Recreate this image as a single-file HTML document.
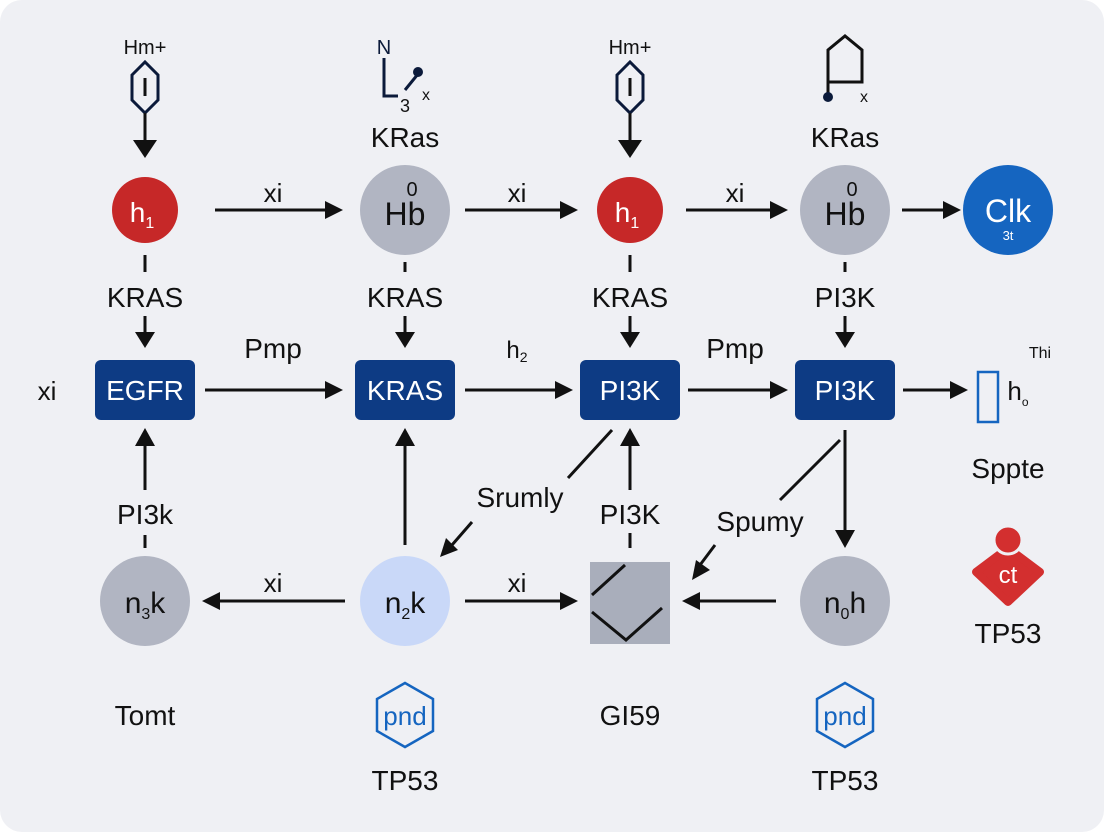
<!DOCTYPE html>
<html><head><meta charset="utf-8"><style>
html,body{margin:0;padding:0;background:#fff;}
svg{display:block;}
text{font-family:"Liberation Sans",Arial,sans-serif;}
</style></head><body>
<svg width="1104" height="832" viewBox="0 0 1104 832" xmlns="http://www.w3.org/2000/svg">
<defs>
<marker id="a" viewBox="0 0 10 10" refX="9" refY="5" markerWidth="7" markerHeight="7" orient="auto" markerUnits="userSpaceOnUse">
</marker>
</defs>
<rect x="0" y="0" width="1104" height="832" rx="22" fill="#eff0f4"/>
<g stroke="#111" stroke-width="3" fill="none">
<!-- top icons -->
<path d="M132 75 L145 62 L158 75 L158 100 L145 113 L132 100 Z" stroke="#0b1a3a"/>
<line x1="145" y1="78" x2="145" y2="96"/>
<line x1="145" y1="113" x2="145" y2="140"/>
<path d="M617 75 L630 62 L643 75 L643 100 L630 113 L617 100 Z" stroke="#0b1a3a"/>
<line x1="630" y1="78" x2="630" y2="96"/>
<line x1="630" y1="113" x2="630" y2="140"/>
<path d="M384 58 L384 96 L398 96" stroke="#0b1a3a"/>
<line x1="405" y1="90" x2="418" y2="74" stroke="#0b1a3a"/>
<path d="M828 82 L828 50 L845 36 L862 50 L862 82 L828 82 M828 82 L828 96" stroke="#111"/>
<!-- row1 arrows -->
<line x1="215" y1="210" x2="325" y2="210"/>
<line x1="465" y1="210" x2="560" y2="210"/>
<line x1="686" y1="210" x2="770" y2="210"/>
<line x1="902" y1="210" x2="943" y2="210"/>
<!-- dashes to labels -->
<line x1="145" y1="255" x2="145" y2="272"/>
<line x1="405" y1="262" x2="405" y2="272"/>
<line x1="630" y1="255" x2="630" y2="272"/>
<line x1="845" y1="262" x2="845" y2="272"/>
<line x1="145" y1="316" x2="145" y2="332"/>
<line x1="405" y1="316" x2="405" y2="332"/>
<line x1="630" y1="316" x2="630" y2="332"/>
<line x1="845" y1="316" x2="845" y2="332"/>
<!-- row2 arrows -->
<line x1="205" y1="390" x2="325" y2="390"/>
<line x1="465" y1="390" x2="555" y2="390"/>
<line x1="688" y1="390" x2="770" y2="390"/>
<line x1="903" y1="390" x2="950" y2="390"/>
<!-- verticals -->
<line x1="145" y1="490" x2="145" y2="445"/>
<line x1="145" y1="535" x2="145" y2="548"/>
<line x1="405" y1="545" x2="405" y2="445"/>
<line x1="630" y1="490" x2="630" y2="445"/>
<line x1="630" y1="533" x2="630" y2="548"/>
<line x1="612" y1="430" x2="568" y2="478"/>
<line x1="472" y1="522" x2="452" y2="545"/>
<line x1="845" y1="430" x2="845" y2="530"/>
<line x1="840" y1="440" x2="780" y2="500"/>
<line x1="715" y1="545" x2="700" y2="565"/>
<!-- row3 arrows -->
<line x1="345" y1="601" x2="220" y2="601"/>
<line x1="465" y1="601" x2="560" y2="601"/>
<line x1="776" y1="601" x2="700" y2="601"/>
</g>
<g fill="#111">
<polygon points="133,140 157,140 145,158"/>
<polygon points="618,140 642,140 630,158"/>
<polygon points="325,201 343,210 325,219"/>
<polygon points="560,201 578,210 560,219"/>
<polygon points="770,201 788,210 770,219"/>
<polygon points="943,201 961,210 943,219"/>
<polygon points="135,332 155,332 145,348"/>
<polygon points="395,332 415,332 405,348"/>
<polygon points="620,332 640,332 630,348"/>
<polygon points="835,332 855,332 845,348"/>
<polygon points="325,381 343,390 325,399"/>
<polygon points="555,381 573,390 555,399"/>
<polygon points="770,381 788,390 770,399"/>
<polygon points="950,381 968,390 950,399"/>
<polygon points="135,446 155,446 145,428"/>
<polygon points="395,446 415,446 405,428"/>
<polygon points="620,446 640,446 630,428"/>
<polygon points="835,530 855,530 845,548"/>
<polygon points="440,557 446,538 458,550"/>
<polygon points="692,580 696,560 710,570"/>
<polygon points="220,592 202,601 220,610"/>
<polygon points="560,592 578,601 560,610"/>
<polygon points="700,592 682,601 700,610"/>
<circle cx="418" cy="72" r="5" fill="#0b1a3a"/>
<circle cx="828" cy="97" r="5" fill="#0b1a3a"/>
</g>
<!-- row1 nodes -->
<circle cx="145" cy="210" r="33" fill="#c62828"/>
<circle cx="405" cy="210" r="45" fill="#b1b5c2"/>
<circle cx="630" cy="210" r="33" fill="#c62828"/>
<circle cx="845" cy="210" r="45" fill="#b1b5c2"/>
<circle cx="1008" cy="210" r="45" fill="#1565c0"/>
<!-- row2 boxes -->
<rect x="95" y="360" width="100" height="60" rx="6" fill="#0d3b84"/>
<rect x="355" y="360" width="100" height="60" rx="6" fill="#0d3b84"/>
<rect x="580" y="360" width="100" height="60" rx="6" fill="#0d3b84"/>
<rect x="795" y="360" width="100" height="60" rx="6" fill="#0d3b84"/>
<rect x="978" y="372" width="20" height="50" fill="none" stroke="#1565c0" stroke-width="2.5"/>
<!-- row3 -->
<circle cx="145" cy="601" r="45" fill="#b1b5c2"/>
<circle cx="405" cy="601" r="45" fill="#c9d8f8"/>
<rect x="590" y="562" width="80" height="82" fill="#a9aebb"/>
<g stroke="#111" stroke-width="3" fill="none">
<line x1="592" y1="595" x2="625" y2="565"/>
<polyline points="592,612 626,640 662,608"/>
</g>
<circle cx="845" cy="601" r="45" fill="#b1b5c2"/>
<path d="M1008 548 L1040 572 L1008 602 L976 572 Z" fill="#d32f2f" stroke="#d32f2f" stroke-width="8" stroke-linejoin="round"/>
<circle cx="1008" cy="540" r="14" fill="#d32f2f" stroke="#eff0f4" stroke-width="3"/>
<polygon points="405,683 433,699 433,731 405,747 377,731 377,699" fill="none" stroke="#1565c0" stroke-width="2.5"/>
<polygon points="845,683 873,699 873,731 845,747 817,731 817,699" fill="none" stroke="#1565c0" stroke-width="2.5"/>
<!-- texts -->
<g font-size="28" fill="#111" text-anchor="middle">
<text x="145" y="54" font-size="20">Hm+</text>
<text x="630" y="54" font-size="20">Hm+</text>
<text x="384" y="54" font-size="20" fill="#0b1a3a">N</text>
<text x="405" y="112" font-size="18">3</text>
<text x="426" y="100" font-size="16">x</text>
<text x="864" y="102" font-size="16">x</text>
<text x="405" y="147">KRas</text>
<text x="845" y="147">KRas</text>
<text x="273" y="202" font-size="26">xi</text>
<text x="517" y="202" font-size="26">xi</text>
<text x="735" y="202" font-size="26">xi</text>
<text x="142" y="222" fill="#fff" font-size="28">h<tspan font-size="16" dy="6">1</tspan></text>
<text x="627" y="222" fill="#fff" font-size="28">h<tspan font-size="16" dy="6">1</tspan></text>
<text x="405" y="225" font-size="32">Hb</text>
<text x="412" y="196" font-size="20">0</text>
<text x="845" y="225" font-size="32">Hb</text>
<text x="852" y="196" font-size="20">0</text>
<text x="1008" y="222" fill="#fff" font-size="32">Clk</text>
<text x="1008" y="240" fill="#fff" font-size="13">3t</text>
<text x="145" y="307">KRAS</text>
<text x="405" y="307">KRAS</text>
<text x="630" y="307">KRAS</text>
<text x="845" y="307">PI3K</text>
<text x="273" y="358">Pmp</text>
<text x="517" y="358" font-size="24">h<tspan font-size="14" dy="4">2</tspan></text>
<text x="735" y="358">Pmp</text>
<text x="47" y="400" font-size="26">xi</text>
<text x="145" y="400" fill="#fff">EGFR</text>
<text x="405" y="400" fill="#fff">KRAS</text>
<text x="630" y="400" fill="#fff">PI3K</text>
<text x="845" y="400" fill="#fff">PI3K</text>
<text x="1018" y="400" font-size="26">h<tspan font-size="12" dy="6">o</tspan></text>
<text x="1040" y="358" font-size="16">Thi</text>
<text x="1008" y="478">Sppte</text>
<text x="145" y="524">PI3k</text>
<text x="520" y="507">Srumly</text>
<text x="630" y="524">PI3K</text>
<text x="760" y="531">Spumy</text>
<text x="273" y="592" font-size="26">xi</text>
<text x="517" y="592" font-size="26">xi</text>
<text x="145" y="613" font-size="30">n<tspan font-size="16" dy="6">3</tspan><tspan dy="-6">k</tspan></text>
<text x="405" y="613" font-size="30">n<tspan font-size="16" dy="6">2</tspan><tspan dy="-6">k</tspan></text>
<text x="845" y="613" font-size="30">n<tspan font-size="16" dy="6">0</tspan><tspan dy="-6">h</tspan></text>
<text x="1008" y="583" fill="#fff" font-size="24">ct</text>
<text x="1008" y="643">TP53</text>
<text x="145" y="725">Tomt</text>
<text x="405" y="725" fill="#1565c0" font-size="26">pnd</text>
<text x="630" y="725">GI59</text>
<text x="845" y="725" fill="#1565c0" font-size="26">pnd</text>
<text x="405" y="790">TP53</text>
<text x="845" y="790">TP53</text>
</g>
</svg>
</body></html>
